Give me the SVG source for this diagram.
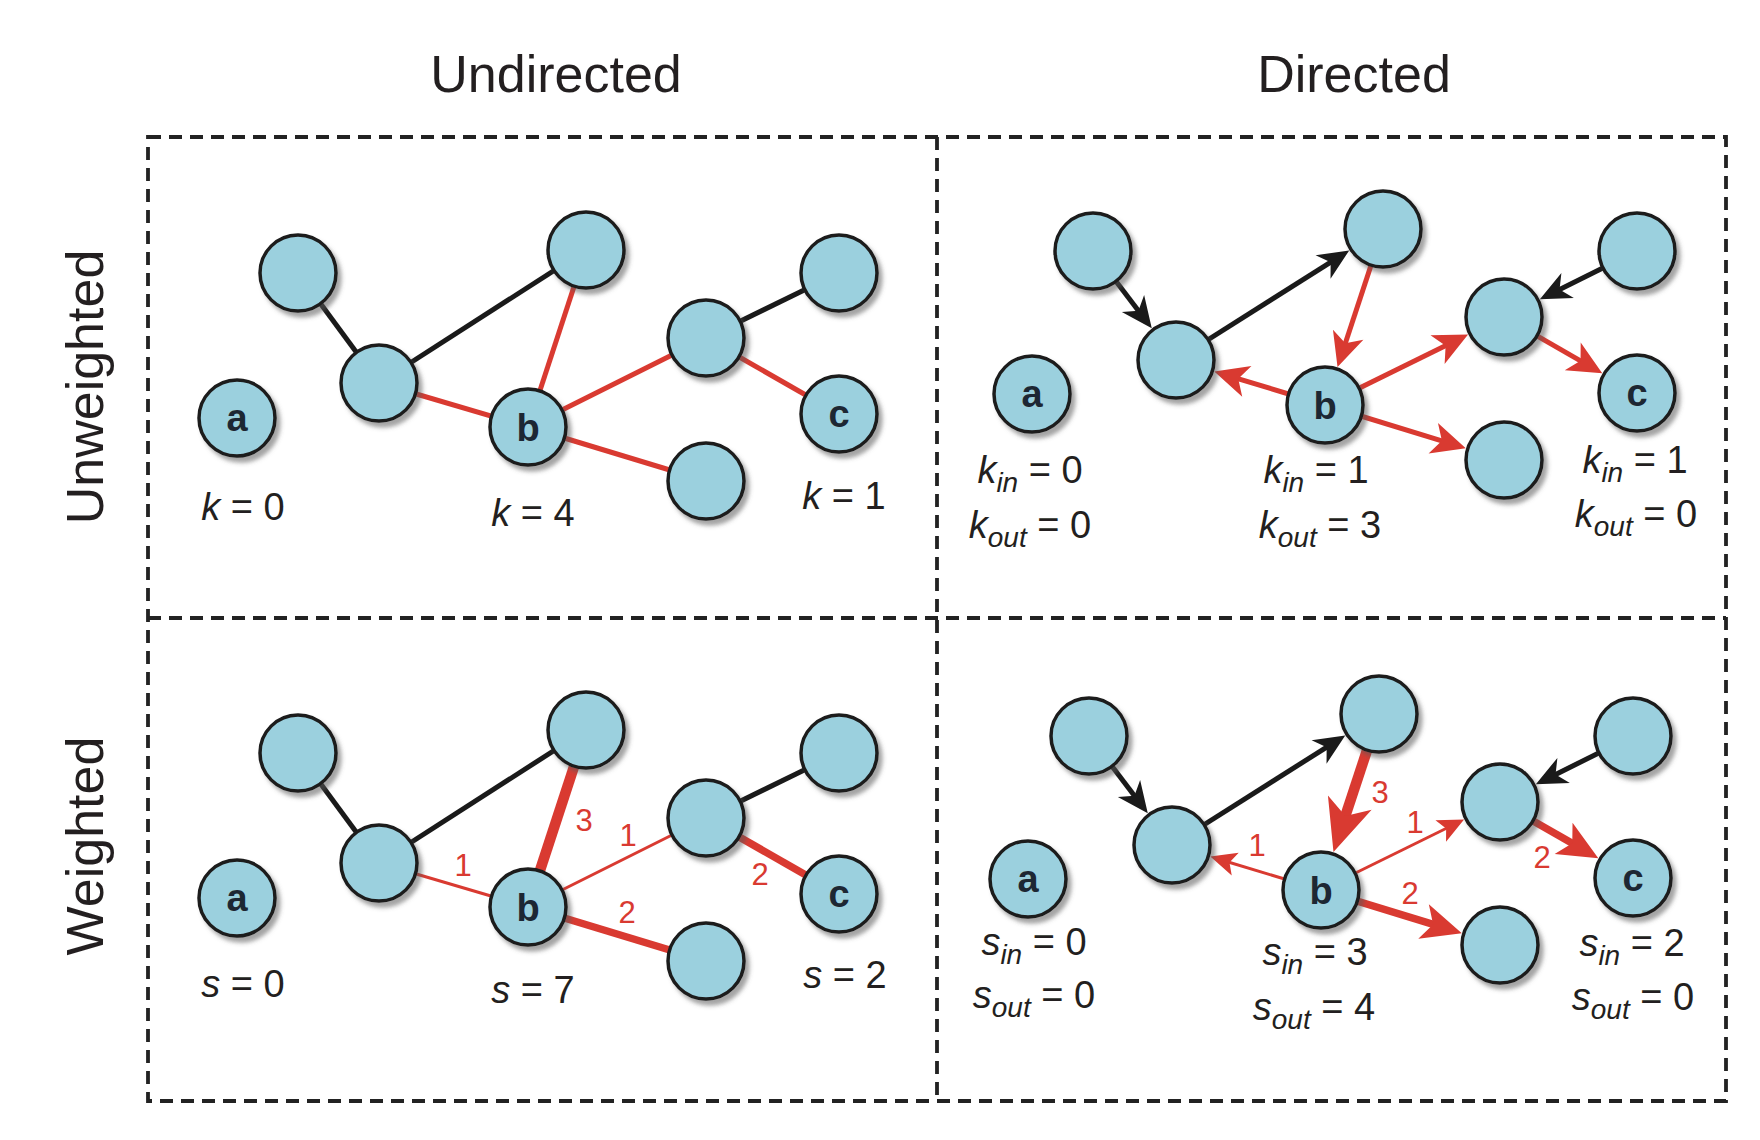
<svg xmlns="http://www.w3.org/2000/svg" width="1760" height="1140" viewBox="0 0 1760 1140">
<style>
.frame{fill:none;stroke:#222;stroke-width:3.8;stroke-dasharray:13 8}
.title{font-family:"Liberation Sans",Arial,sans-serif;font-size:52px;fill:#231f20;text-anchor:middle}
.nd{fill:#9bd0de;stroke:#1c1c1c;stroke-width:3.5;filter:url(#sh)}
.nl{font-family:"Liberation Sans",Arial,sans-serif;font-size:38px;font-weight:bold;fill:#1d2733;text-anchor:middle}
.lab{font-family:"Liberation Sans",Arial,sans-serif;font-size:38px;fill:#231f20;text-anchor:middle}
.it{font-style:italic}
.sub{font-style:italic;font-size:28px}
.wt{font-family:"Liberation Sans",Arial,sans-serif;font-size:31px;fill:#d93a31;text-anchor:middle}
.ek{stroke:#1a1a1a;stroke-width:5;fill:none}
.er{stroke:#d93a31;stroke-width:5;fill:none}
.r1{stroke:#d93a31;stroke-width:3;fill:none}
.r2{stroke:#d93a31;stroke-width:7.5;fill:none}
.r3{stroke:#d93a31;stroke-width:10.5;fill:none}
</style>
<defs>
<filter id="sh" x="-30%" y="-30%" width="170%" height="170%">
<feDropShadow dx="4" dy="5" stdDeviation="2" flood-color="#5a5a5a" flood-opacity="0.55"/>
</filter>
<marker id="arrK" markerUnits="userSpaceOnUse" markerWidth="40" markerHeight="40" refX="19" refY="0" orient="auto" overflow="visible"><path d="M0,-14 L31,0 L0,14 L9,0 Z" fill="#1a1a1a"/></marker>
<marker id="arrR" markerUnits="userSpaceOnUse" markerWidth="40" markerHeight="40" refX="20" refY="0" orient="auto" overflow="visible"><path d="M0,-16 L34,0 L0,16 L9,0 Z" fill="#d93a31"/></marker>
<marker id="arrR1" markerUnits="userSpaceOnUse" markerWidth="40" markerHeight="40" refX="16" refY="0" orient="auto" overflow="visible"><path d="M0,-12 L26,0 L0,12 L6,0 Z" fill="#d93a31"/></marker>
<marker id="arrR2" markerUnits="userSpaceOnUse" markerWidth="50" markerHeight="50" refX="22" refY="0" orient="auto" overflow="visible"><path d="M0,-18 L40,0 L0,18 L10,0 Z" fill="#d93a31"/></marker>
<marker id="arrR3" markerUnits="userSpaceOnUse" markerWidth="60" markerHeight="60" refX="28" refY="0" orient="auto" overflow="visible"><path d="M0,-23 L52,0 L0,23 L14,0 Z" fill="#d93a31"/></marker>
</defs>

<rect width="1760" height="1140" fill="#fff"/>

<!-- frames -->
<g id="frames">
<rect class="frame" x="148" y="137" width="1578" height="964"/>
<line class="frame" x1="937" y1="137" x2="937" y2="1101"/>
<line class="frame" x1="148" y1="618" x2="1726" y2="618"/>
</g>

<!-- headings -->
<g id="headings">
<text class="title" x="556" y="92">Undirected</text>
<text class="title" x="1354" y="92">Directed</text>
<text class="title" x="103" y="387" transform="rotate(-90 103 387)">Unweighted</text>
<text class="title" x="103" y="846" transform="rotate(-90 103 846)">Weighted</text>
</g>

<!-- ===== Panel 1: undirected unweighted ===== -->
<g id="connectors-uu">
<line class="ek" x1="298" y1="273" x2="379" y2="383"/>
<line class="ek" x1="379" y1="383" x2="586" y2="250"/>
<line class="er" x1="379" y1="383" x2="528" y2="427"/>
<line class="er" x1="586" y1="250" x2="528" y2="427"/>
<line class="er" x1="528" y1="427" x2="706" y2="338"/>
<line class="er" x1="528" y1="427" x2="706" y2="481"/>
<line class="ek" x1="706" y1="338" x2="839" y2="273"/>
<line class="er" x1="706" y1="338" x2="839" y2="414"/>
</g>
<g id="uu-n1"><circle class="nd" cx="298" cy="273" r="38"/></g>
<g id="uu-n2"><circle class="nd" cx="379" cy="383" r="38"/></g>
<g id="uu-n3"><circle class="nd" cx="586" cy="250" r="38"/></g>
<g id="uu-b"><circle class="nd" cx="528" cy="427" r="38"/><text class="nl" x="528" y="441">b</text></g>
<g id="uu-n5"><circle class="nd" cx="706" cy="338" r="38"/></g>
<g id="uu-n6"><circle class="nd" cx="839" cy="273" r="38"/></g>
<g id="uu-c"><circle class="nd" cx="839" cy="414" r="38"/><text class="nl" x="839" y="427">c</text></g>
<g id="uu-n8"><circle class="nd" cx="706" cy="481" r="38"/></g>
<g id="uu-a"><circle class="nd" cx="237" cy="418" r="38"/><text class="nl" x="237" y="431">a</text></g>
<g id="uu-labels">
<text class="lab" x="243" y="520"><tspan class="it">k</tspan> = 0</text>
<text class="lab" x="533" y="526"><tspan class="it">k</tspan> = 4</text>
<text class="lab" x="844" y="509"><tspan class="it">k</tspan> = 1</text>
</g>

<!-- ===== Panel 2: directed unweighted ===== -->
<g id="connectors-du">
<line class="ek" x1="1093" y1="251" x2="1144.5" y2="318.7" marker-end="url(#arrK)"/>
<line class="ek" x1="1176" y1="360" x2="1339.1" y2="256.8" marker-end="url(#arrK)"/>
<line class="er" x1="1383" y1="229" x2="1341.9" y2="353.7" marker-end="url(#arrR)"/>
<line class="er" x1="1325" y1="405" x2="1227.7" y2="375.6" marker-end="url(#arrR)"/>
<line class="er" x1="1325" y1="405" x2="1455.5" y2="340.8" marker-end="url(#arrR)"/>
<line class="er" x1="1325" y1="405" x2="1452.4" y2="444.1" marker-end="url(#arrR)"/>
<line class="er" x1="1504" y1="317" x2="1590.1" y2="366.3" marker-end="url(#arrR)"/>
<line class="ek" x1="1637" y1="251" x2="1550.6" y2="293.9" marker-end="url(#arrK)"/>
</g>
<g id="du-n1"><circle class="nd" cx="1093" cy="251" r="38"/></g>
<g id="du-n2"><circle class="nd" cx="1176" cy="360" r="38"/></g>
<g id="du-n3"><circle class="nd" cx="1383" cy="229" r="38"/></g>
<g id="du-b"><circle class="nd" cx="1325" cy="405" r="38"/><text class="nl" x="1325" y="419">b</text></g>
<g id="du-n5"><circle class="nd" cx="1504" cy="317" r="38"/></g>
<g id="du-n6"><circle class="nd" cx="1637" cy="251" r="38"/></g>
<g id="du-c"><circle class="nd" cx="1637" cy="393" r="38"/><text class="nl" x="1637" y="406">c</text></g>
<g id="du-n8"><circle class="nd" cx="1504" cy="460" r="38"/></g>
<g id="du-a"><circle class="nd" cx="1032" cy="394" r="38"/><text class="nl" x="1032" y="407">a</text></g>
<g id="du-labels">
<text class="lab" x="1030" y="483"><tspan class="it">k</tspan><tspan class="sub" dy="9">in</tspan><tspan dy="-9"> = 0</tspan></text>
<text class="lab" x="1030" y="538"><tspan class="it">k</tspan><tspan class="sub" dy="9">out</tspan><tspan dy="-9"> = 0</tspan></text>
<text class="lab" x="1316" y="483"><tspan class="it">k</tspan><tspan class="sub" dy="9">in</tspan><tspan dy="-9"> = 1</tspan></text>
<text class="lab" x="1320" y="538"><tspan class="it">k</tspan><tspan class="sub" dy="9">out</tspan><tspan dy="-9"> = 3</tspan></text>
<text class="lab" x="1635" y="473"><tspan class="it">k</tspan><tspan class="sub" dy="9">in</tspan><tspan dy="-9"> = 1</tspan></text>
<text class="lab" x="1636" y="527"><tspan class="it">k</tspan><tspan class="sub" dy="9">out</tspan><tspan dy="-9"> = 0</tspan></text>
</g>

<!-- ===== Panel 3: undirected weighted ===== -->
<g id="connectors-uw">
<line class="ek" x1="298" y1="753" x2="379" y2="863"/>
<line class="ek" x1="379" y1="863" x2="586" y2="730"/>
<line class="r1" x1="379" y1="863" x2="528" y2="907"/>
<line class="r3" x1="586" y1="730" x2="528" y2="907"/>
<line class="r1" x1="528" y1="907" x2="706" y2="818"/>
<line class="r2" x1="528" y1="907" x2="706" y2="961"/>
<line class="ek" x1="706" y1="818" x2="839" y2="753"/>
<line class="r2" x1="706" y1="818" x2="839" y2="894"/>
</g>
<g id="uw-n1"><circle class="nd" cx="298" cy="753" r="38"/></g>
<g id="uw-n2"><circle class="nd" cx="379" cy="863" r="38"/></g>
<g id="uw-n3"><circle class="nd" cx="586" cy="730" r="38"/></g>
<g id="uw-b"><circle class="nd" cx="528" cy="907" r="38"/><text class="nl" x="528" y="921">b</text></g>
<g id="uw-n5"><circle class="nd" cx="706" cy="818" r="38"/></g>
<g id="uw-n6"><circle class="nd" cx="839" cy="753" r="38"/></g>
<g id="uw-c"><circle class="nd" cx="839" cy="894" r="38"/><text class="nl" x="839" y="907">c</text></g>
<g id="uw-n8"><circle class="nd" cx="706" cy="961" r="38"/></g>
<g id="uw-a"><circle class="nd" cx="237" cy="898" r="38"/><text class="nl" x="237" y="911">a</text></g>
<g id="uw-weights">
<text class="wt" x="463" y="876">1</text>
<text class="wt" x="584" y="831">3</text>
<text class="wt" x="628" y="846">1</text>
<text class="wt" x="627" y="923">2</text>
<text class="wt" x="760" y="885">2</text>
</g>
<g id="uw-labels">
<text class="lab" x="243" y="997"><tspan class="it">s</tspan> = 0</text>
<text class="lab" x="533" y="1003"><tspan class="it">s</tspan> = 7</text>
<text class="lab" x="845" y="988"><tspan class="it">s</tspan> = 2</text>
</g>

<!-- ===== Panel 4: directed weighted ===== -->
<g transform="translate(-4,485)">
<g id="connectors-dw">
<line class="ek" x1="1093" y1="251" x2="1144.5" y2="318.7" marker-end="url(#arrK)"/>
<line class="ek" x1="1176" y1="360" x2="1339.1" y2="256.8" marker-end="url(#arrK)"/>
<line class="r3" x1="1383" y1="229" x2="1345.0" y2="344.2" marker-end="url(#arrR3)"/>
<line class="r1" x1="1325" y1="405" x2="1223.9" y2="374.5" marker-end="url(#arrR1)"/>
<line class="r1" x1="1325" y1="405" x2="1459.1" y2="339.0" marker-end="url(#arrR1)"/>
<line class="r2" x1="1325" y1="405" x2="1448.6" y2="442.9" marker-end="url(#arrR2)"/>
<line class="r2" x1="1504" y1="317" x2="1586.7" y2="364.3" marker-end="url(#arrR2)"/>
<line class="ek" x1="1637" y1="251" x2="1550.6" y2="293.9" marker-end="url(#arrK)"/>
</g>
<g id="dw-n1"><circle class="nd" cx="1093" cy="251" r="38"/></g>
<g id="dw-n2"><circle class="nd" cx="1176" cy="360" r="38"/></g>
<g id="dw-n3"><circle class="nd" cx="1383" cy="229" r="38"/></g>
<g id="dw-b"><circle class="nd" cx="1325" cy="405" r="38"/><text class="nl" x="1325" y="419">b</text></g>
<g id="dw-n5"><circle class="nd" cx="1504" cy="317" r="38"/></g>
<g id="dw-n6"><circle class="nd" cx="1637" cy="251" r="38"/></g>
<g id="dw-c"><circle class="nd" cx="1637" cy="393" r="38"/><text class="nl" x="1637" y="406">c</text></g>
<g id="dw-n8"><circle class="nd" cx="1504" cy="460" r="38"/></g>
<g id="dw-a"><circle class="nd" cx="1032" cy="394" r="38"/><text class="nl" x="1032" y="407">a</text></g>
</g>
<g id="dw-weights">
<text class="wt" x="1380" y="803">3</text>
<text class="wt" x="1257" y="856">1</text>
<text class="wt" x="1415" y="833">1</text>
<text class="wt" x="1410" y="904">2</text>
<text class="wt" x="1542" y="868">2</text>
</g>
<g id="dw-labels">
<text class="lab" x="1034" y="955"><tspan class="it">s</tspan><tspan class="sub" dy="9">in</tspan><tspan dy="-9"> = 0</tspan></text>
<text class="lab" x="1034" y="1008"><tspan class="it">s</tspan><tspan class="sub" dy="9">out</tspan><tspan dy="-9"> = 0</tspan></text>
<text class="lab" x="1315" y="965"><tspan class="it">s</tspan><tspan class="sub" dy="9">in</tspan><tspan dy="-9"> = 3</tspan></text>
<text class="lab" x="1314" y="1020"><tspan class="it">s</tspan><tspan class="sub" dy="9">out</tspan><tspan dy="-9"> = 4</tspan></text>
<text class="lab" x="1632" y="956"><tspan class="it">s</tspan><tspan class="sub" dy="9">in</tspan><tspan dy="-9"> = 2</tspan></text>
<text class="lab" x="1633" y="1010"><tspan class="it">s</tspan><tspan class="sub" dy="9">out</tspan><tspan dy="-9"> = 0</tspan></text>
</g>
</svg>
